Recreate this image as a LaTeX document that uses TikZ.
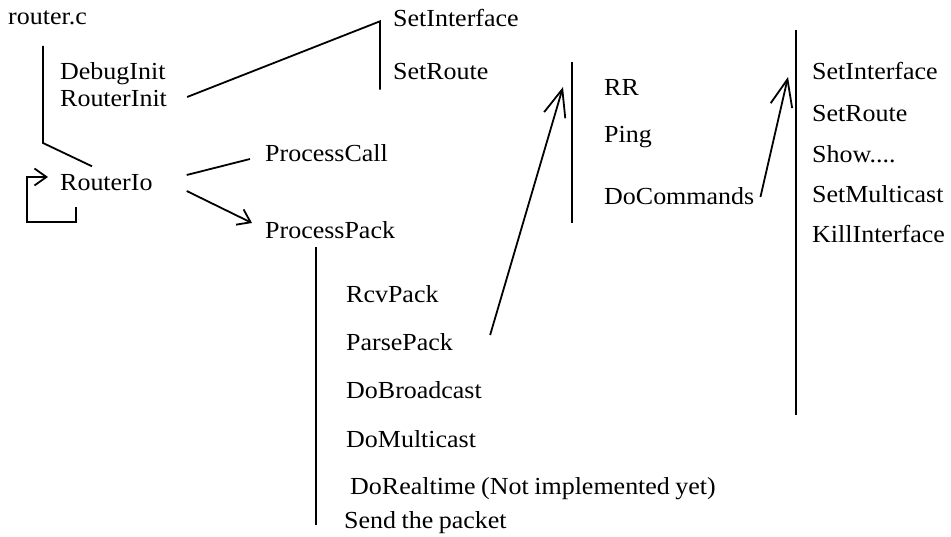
\documentclass[tikz,border=0pt]{standalone}
\usepackage{fontspec}
\setmainfont{Liberation Serif}[FakeStretch=1.06,WordSpace=0.85]
\usetikzlibrary{arrows.meta,positioning,calc}

\begin{document}
\begin{tikzpicture}[
    x=1pt, y=-1pt,
    item/.style={anchor=west, inner sep=0pt, text height=0.7em, text depth=0.2em, font=\fontsize{24.5}{29}\selectfont},
    link/.style={line width=1.8pt},
    call/.style={link, -{Straight Barb[length=12pt,width=17pt]}},
    farcall/.style={link, -{Straight Barb[length=27pt,width=22pt]}}
]
\useasboundingbox (0,0) rectangle (951,537);

% Main file
\node[item] (rc) at (8,22) {router.c};
\node[item] (dbg) at (60,77) {DebugInit};
\node[item] (rinit) at (60,104) {RouterInit};
\node[item] (rio) at (60,188) {RouterIo};

% Init calls
\node[item] (si1) at (393,24) {SetInterface};
\node[item] (sr1) at (393,77) {SetRoute};

% Main loop
\node[item] (pcall) at (265,159) {ProcessCall};
\node[item] (ppack) at (265,236) {ProcessPack};

% Packet handling
\node[item] (rcv) at (346,300) {RcvPack};
\node[item] (parse) at (346,348) {ParsePack};
\node[item] (bcast) at (346,396) {DoBroadcast};
\node[item] (mcast) at (346,445) {DoMulticast};
\node[item] (rt) at (350,492) {DoRealtime (Not implemented yet)};
\node[item] (send) at (344,526) {Send the packet};

% Packet types
\node[item] (rr) at (604,93) {RR};
\node[item] (ping) at (604,140) {Ping};
\node[item] (docmd) at (604,202) {DoCommands};

% Commands
\node[item] (si2) at (812,77) {SetInterface};
\node[item] (sr2) at (812,119) {SetRoute};
\node[item] (show) at (812,160) {Show....};
\node[item] (smc) at (812,200) {SetMulticast};
\node[item] (kill) at (812,240) {KillInterface};

% Links
\draw[link] ($(rc.west)+(35,24)$) -- ($(rc.west)+(35,121)$) -- ($(rio.north west)+(32,-17)$);
\draw[link] ($(rinit.east)+(20,-7)$) -- ($(si1.north west)+(-13,2)$) -- ($(sr1.south west)+(-13,8)$);
\draw[call] ($(rio.west)+(16,19)$) -- ($(rio.west)+(16,34)$) -| ($(rio.west)+(-33,-11)$) -- ($(rio.west)+(-12,-11)$);
\draw[link] ($(rio.east)+(34,-13)$) -- ($(pcall.west)+(-15,0)$);
\draw[call] ($(rio.east)+(34,3)$) -- ($(ppack.west)+(-13,-13)$);
\draw[link] ($(ppack.south west)+(51,6)$) -- ($(send.west)+(-28,-1)$);
\draw[farcall] ($(parse.east)+(37,-13)$) -- ($(rr.west)+(-41,-6)$);
\draw[link] ($(rr.west)+(-32,-31)$) -- ($(docmd.west)+(-32,21)$);
\draw[farcall] ($(docmd.east)+(6,-5)$) -- ($(si2.west)+(-24,0)$);
\draw[link] ($(si2.west)+(-16,-47)$) -- ($(kill.west)+(-16,175)$);

\end{tikzpicture}
\end{document}
